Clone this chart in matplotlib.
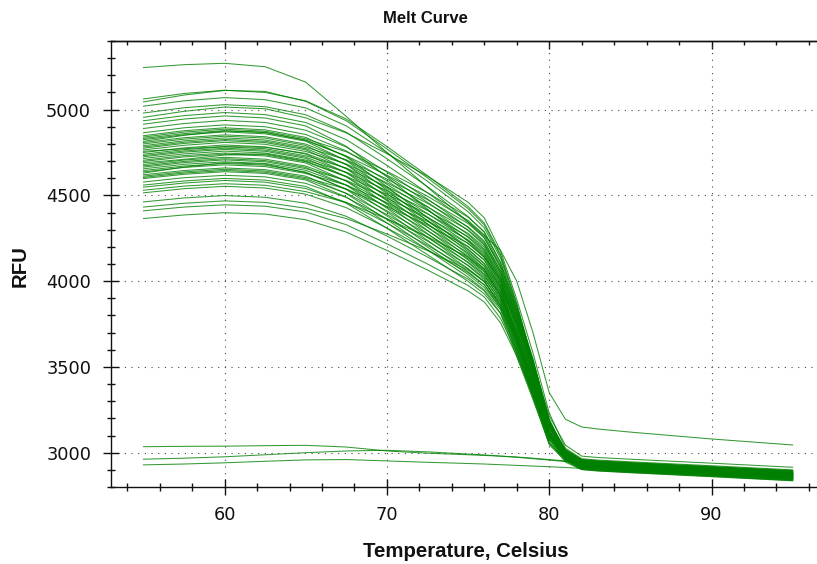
import matplotlib
matplotlib.use("Agg")
import matplotlib.pyplot as plt
from matplotlib.ticker import FixedLocator, MultipleLocator

# ---------------- data ----------------
temperature_c = [55, 57.5, 60, 62.5, 65, 67.5, 70, 72.5, 75, 76, 77, 78, 79, 80, 81, 82, 83, 85, 90, 95]

x_major_ticks = [60, 70, 80, 90]
y_major_ticks = [3000, 3500, 4000, 4500, 5000]

# brightest well (highest start, highest post-melt baseline)
rfu_outlier = [5245, 5262, 5270, 5250, 5160, 4960, 4750, 4548, 4345, 4265, 4180, 4000, 3700, 3350, 3195, 3150, 3138, 3120, 3080, 3045]

rfu_upper = [
    [5062, 5094, 5113, 5100, 5051, 4945, 4785, 4615, 4435, 4339, 4158, 3871, 3531, 3214, 3044, 2980, 2972, 2962, 2939, 2915],
    [5045, 5085, 5112, 5106, 5048, 4935, 4771, 4602, 4423, 4328, 4148, 3863, 3526, 3187, 3018, 2955, 2947, 2937, 2914, 2890],
    [5020, 5051, 5070, 5058, 5010, 4905, 4749, 4582, 4405, 4311, 4134, 3852, 3519, 3164, 2998, 2935, 2927, 2917, 2894, 2870],
]

rfu_shoulder = [
    [4980, 5011, 5029, 5017, 4970, 4868, 4714, 4551, 4377, 4285, 4111, 3835, 3508, 3170, 3006, 2945, 2937, 2927, 2904, 2880],
    [4955, 4990, 5015, 5005, 4952, 4864, 4743, 4612, 4460, 4369, 4177, 3894, 3581, 3232, 3026, 2965, 2957, 2947, 2924, 2900],
    [4935, 4965, 4983, 4971, 4925, 4825, 4675, 4515, 4345, 4255, 4085, 3815, 3495, 3145, 2985, 2925, 2917, 2907, 2884, 2860],
    [4915, 4945, 4963, 4951, 4905, 4786, 4608, 4420, 4232, 4143, 4004, 3716, 3409, 3128, 3009, 2950, 2942, 2932, 2909, 2885],
    [4890, 4919, 4937, 4925, 4880, 4782, 4636, 4479, 4313, 4225, 4059, 3795, 3482, 3150, 2994, 2935, 2927, 2917, 2894, 2870],
    [4865, 4894, 4911, 4900, 4855, 4759, 4614, 4460, 4296, 4209, 4045, 3784, 3475, 3172, 3018, 2960, 2952, 2942, 2919, 2895],
]

rfu_band_a = [
    [4848, 4877, 4894, 4882, 4838, 4724, 4551, 4370, 4188, 4102, 3968, 3687, 3391, 3110, 2997, 2940, 2932, 2922, 2899, 2875],
    [4840, 4869, 4886, 4874, 4830, 4754, 4640, 4516, 4373, 4288, 4107, 3843, 3548, 3175, 2977, 2920, 2912, 2902, 2879, 2855],
    [4832, 4860, 4878, 4866, 4823, 4728, 4585, 4434, 4272, 4187, 4026, 3770, 3466, 3164, 3012, 2955, 2947, 2937, 2914, 2890],
    [4825, 4853, 4870, 4859, 4816, 4702, 4532, 4352, 4173, 4088, 3956, 3677, 3384, 3098, 2987, 2930, 2922, 2912, 2889, 2865],
    [4815, 4850, 4875, 4868, 4820, 4730, 4618, 4495, 4354, 4270, 4091, 3832, 3541, 3197, 3001, 2945, 2937, 2927, 2904, 2880],
    [4808, 4836, 4853, 4842, 4799, 4705, 4565, 4415, 4255, 4171, 4012, 3759, 3459, 3121, 2971, 2915, 2907, 2897, 2874, 2850],
    [4800, 4828, 4845, 4834, 4791, 4679, 4511, 4334, 4157, 4073, 3942, 3666, 3377, 3115, 3006, 2950, 2942, 2932, 2909, 2885],
    [4790, 4818, 4835, 4823, 4781, 4707, 4595, 4475, 4336, 4252, 4076, 3821, 3534, 3184, 2991, 2935, 2927, 2917, 2894, 2870],
    [4782, 4810, 4826, 4815, 4773, 4680, 4542, 4394, 4237, 4154, 3997, 3748, 3452, 3163, 3015, 2960, 2952, 2942, 2919, 2895],
    [4775, 4803, 4819, 4808, 4766, 4655, 4490, 4315, 4140, 4057, 3929, 3655, 3370, 3087, 2980, 2925, 2917, 2907, 2884, 2860],
]

rfu_band_b = [
    [4765, 4792, 4809, 4798, 4756, 4683, 4573, 4454, 4317, 4234, 4060, 3810, 3527, 3189, 2998, 2943, 2935, 2925, 2902, 2878],
    [4757, 4772, 4785, 4780, 4745, 4657, 4520, 4374, 4220, 4138, 3983, 3737, 3445, 3110, 2965, 2910, 2902, 2892, 2869, 2845],
    [4750, 4777, 4794, 4783, 4741, 4632, 4469, 4296, 4124, 4042, 3915, 3644, 3363, 3113, 3007, 2953, 2945, 2935, 2912, 2888],
    [4740, 4767, 4783, 4772, 4731, 4659, 4550, 4433, 4298, 4217, 4045, 3799, 3520, 3177, 2987, 2933, 2925, 2915, 2892, 2868],
    [4732, 4759, 4775, 4764, 4723, 4633, 4498, 4355, 4202, 4121, 3968, 3726, 3438, 3115, 2971, 2917, 2909, 2899, 2876, 2852],
    [4725, 4752, 4768, 4757, 4716, 4609, 4448, 4277, 4107, 4027, 3902, 3633, 3356, 3102, 2999, 2945, 2937, 2927, 2904, 2880],
    [4715, 4742, 4758, 4747, 4706, 4635, 4528, 4412, 4279, 4199, 4030, 3788, 3513, 3168, 2980, 2927, 2919, 2909, 2886, 2862],
    [4705, 4732, 4747, 4737, 4696, 4608, 4475, 4333, 4183, 4103, 3953, 3714, 3431, 3152, 3010, 2957, 2949, 2939, 2916, 2892],
    [4698, 4724, 4740, 4730, 4689, 4583, 4425, 4257, 4090, 4010, 3887, 3621, 3349, 3077, 2976, 2923, 2915, 2905, 2882, 2858],
    [4690, 4710, 4735, 4742, 4700, 4611, 4506, 4392, 4260, 4181, 4014, 3777, 3506, 3177, 2992, 2939, 2931, 2921, 2898, 2874],
]

rfu_band_c = [
    [4680, 4706, 4722, 4711, 4671, 4584, 4453, 4314, 4165, 4087, 3938, 3703, 3424, 3105, 2965, 2913, 2905, 2895, 2872, 2848],
    [4672, 4698, 4714, 4703, 4663, 4559, 4403, 4238, 4073, 3995, 3873, 3609, 3341, 3100, 3001, 2949, 2941, 2931, 2908, 2884],
    [4665, 4691, 4707, 4696, 4656, 4587, 4483, 4371, 4241, 4163, 3999, 3766, 3499, 3166, 2983, 2931, 2923, 2913, 2890, 2866],
    [4655, 4681, 4696, 4686, 4646, 4560, 4431, 4294, 4148, 4070, 3924, 3692, 3417, 3094, 2957, 2905, 2897, 2887, 2864, 2840],
    [4645, 4671, 4686, 4676, 4636, 4534, 4380, 4217, 4055, 3978, 3858, 3597, 3334, 3091, 2994, 2943, 2935, 2925, 2902, 2878],
    [4637, 4663, 4678, 4668, 4628, 4560, 4458, 4348, 4220, 4143, 3982, 3754, 3492, 3153, 2972, 2921, 2913, 2903, 2880, 2856],
    [4630, 4665, 4690, 4682, 4632, 4537, 4410, 4274, 4130, 4054, 3910, 3681, 3410, 3121, 2986, 2935, 2927, 2917, 2894, 2870],
    [4620, 4645, 4660, 4650, 4612, 4510, 4359, 4199, 4039, 3963, 3845, 3586, 3327, 3056, 2962, 2911, 2903, 2893, 2870, 2846],
    [4612, 4637, 4652, 4642, 4604, 4537, 4436, 4327, 4201, 4126, 3966, 3743, 3485, 3176, 2997, 2947, 2939, 2929, 2906, 2882],
    [4605, 4630, 4645, 4635, 4597, 4513, 4388, 4254, 4112, 4037, 3895, 3670, 3403, 3109, 2975, 2925, 2917, 2907, 2884, 2860],
    [4598, 4623, 4638, 4628, 4590, 4490, 4340, 4182, 4024, 3949, 3833, 3577, 3321, 3046, 2953, 2903, 2895, 2885, 2862, 2838],
]

rfu_low = [
    [4578, 4603, 4617, 4608, 4570, 4488, 4364, 4233, 4093, 4019, 3880, 3658, 3395, 3118, 2986, 2937, 2929, 2919, 2896, 2872],
    [4560, 4584, 4599, 4589, 4552, 4454, 4308, 4154, 3999, 3926, 3812, 3560, 3310, 3054, 2964, 2915, 2907, 2897, 2874, 2850],
    [4548, 4572, 4587, 4577, 4540, 4459, 4338, 4209, 4072, 4000, 3862, 3645, 3387, 3106, 2977, 2929, 2921, 2911, 2888, 2864],
    [4530, 4554, 4568, 4559, 4522, 4458, 4363, 4259, 4139, 4067, 3916, 3707, 3462, 3127, 2955, 2907, 2899, 2889, 2866, 2842],
    [4515, 4539, 4553, 4543, 4507, 4428, 4310, 4183, 4049, 3978, 3843, 3630, 3377, 3097, 2970, 2923, 2915, 2905, 2882, 2858],
    [4462, 4485, 4499, 4489, 4454, 4378, 4263, 4141, 4012, 3943, 3813, 3607, 3363, 3081, 2959, 2913, 2905, 2895, 2872, 2848],
    [4432, 4454, 4468, 4459, 4425, 4365, 4275, 4178, 4065, 3998, 3856, 3664, 3434, 3137, 2972, 2927, 2919, 2909, 2886, 2862],
    [4410, 4432, 4445, 4437, 4403, 4329, 4218, 4100, 3975, 3908, 3783, 3584, 3348, 3063, 2945, 2901, 2893, 2883, 2860, 2836],
    [4365, 4386, 4399, 4391, 4358, 4286, 4179, 4065, 3943, 3879, 3757, 3564, 3335, 3074, 2960, 2917, 2909, 2899, 2876, 2852],
]

# no-template controls (no melt transition)
rfu_ntc = [
    [3035, 3037, 3038, 3041, 3043, 3033, 3010, 2997, 2988, 2984, 2980, 2975, 2968, 2960, 2952, 2945, 2940, 2928, 2902, 2878],
    [2962, 2968, 2976, 2988, 3000, 3010, 3014, 3005, 2992, 2987, 2980, 2973, 2965, 2957, 2948, 2940, 2934, 2922, 2895, 2872],
    [2929, 2934, 2941, 2950, 2958, 2960, 2952, 2944, 2937, 2934, 2930, 2926, 2922, 2918, 2914, 2908, 2903, 2893, 2870, 2848],
]

# ---------------- drawing ----------------
W, H = 817, 564
fig = plt.figure(figsize=(W / 100, H / 100), dpi=100)
fig.patch.set_facecolor("white")

ax_left, ax_right, ax_top, ax_bottom = 111, 817, 41, 487
ax = fig.add_axes([ax_left / W, 1 - ax_bottom / H, (ax_right - ax_left) / W, (ax_bottom - ax_top) / H])

line_color = "#008000"
all_wells = [rfu_outlier] + rfu_upper + rfu_shoulder + rfu_band_a + rfu_band_b + rfu_band_c + rfu_low + rfu_ntc
for well in all_wells:
    ax.plot(temperature_c, well, color=line_color, lw=0.75, alpha=0.8,
            solid_joinstyle="round", zorder=3)

ax.set_xlim(53, 96.5)
ax.set_ylim(2800, 5400)

ax.xaxis.set_major_locator(FixedLocator(x_major_ticks))
ax.xaxis.set_minor_locator(MultipleLocator(2))
ax.yaxis.set_major_locator(FixedLocator(y_major_ticks))
ax.yaxis.set_minor_locator(MultipleLocator(100))

ax.grid(True, which="major", linestyle=(0, (1, 5)), color="#444444", linewidth=0.8, zorder=1)

for side in ("left", "bottom", "top"):
    ax.spines[side].set_linewidth(1.0)
    ax.spines[side].set_color("#111111")
ax.spines["right"].set_visible(False)

ax.tick_params(axis="both", which="major", direction="inout", length=11, width=1.0, color="#111111",
               labelsize=12.8, labelcolor="#111111")
ax.tick_params(axis="both", which="minor", direction="inout", length=5.8, width=1.0, color="#111111")
ax.tick_params(axis="x", which="major", pad=8.5)
ax.tick_params(axis="y", which="major", pad=8.8)

sec = ax.secondary_xaxis("top")
sec.xaxis.set_major_locator(FixedLocator(x_major_ticks))
sec.xaxis.set_minor_locator(MultipleLocator(2))
sec.tick_params(which="major", direction="in", length=5.4, width=1.0, color="#111111", labeltop=False)
sec.tick_params(which="minor", direction="in", length=2.9, width=1.0, color="#111111")
sec.spines["top"].set_linewidth(1.0)
sec.spines["top"].set_color("#111111")

label_font = ["Liberation Sans", "DejaVu Sans"]
fig.text(425 / W, 1 - 23.3 / H, "Melt Curve", ha="center", va="baseline",
         fontsize=12, fontweight="bold", family=label_font, color="#111111")
fig.text(466 / W, 1 - 556.7 / H, "Temperature, Celsius", ha="center", va="baseline",
         fontsize=14.7, fontweight="bold", family=label_font, color="#111111")
fig.text(20 / W, 1 - 266 / H, "RFU", ha="center", va="center", rotation=90,
         fontsize=14.7, fontweight="bold", family=label_font, color="#111111")

fig.savefig("out.png", dpi=100)
